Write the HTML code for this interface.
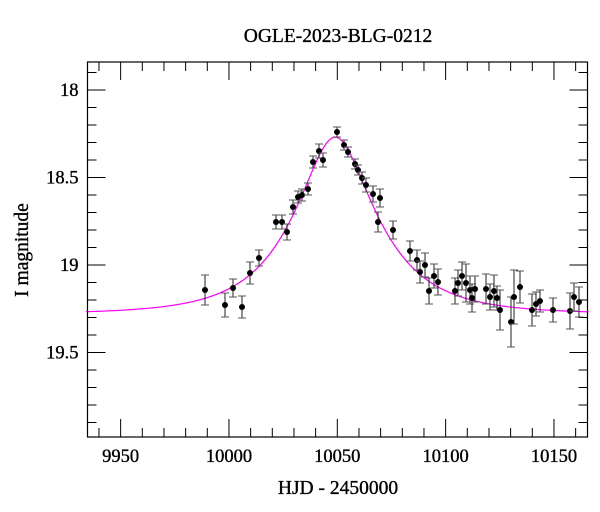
<!DOCTYPE html>
<html><head><meta charset="utf-8"><style>
html,body{margin:0;padding:0;background:#fff;width:600px;height:512px;overflow:hidden}
svg text{font-family:"Liberation Serif",serif;fill:#000;stroke:#000;stroke-width:0.35}
</style></head><body>
<svg id="s" width="600" height="512" viewBox="0 0 600 512" xmlns="http://www.w3.org/2000/svg">
<rect x="0" y="0" width="600" height="512" fill="#fff"/>
<text x="338" y="42" font-size="19.5" text-anchor="middle">OGLE-2023-BLG-0212</text>
<text x="338" y="494" font-size="19.5" text-anchor="middle">HJD - 2450000</text>
<text transform="translate(28,250) rotate(-90)" font-size="19.5" text-anchor="middle">I magnitude</text>
<g id="ticks" stroke="#000" stroke-width="1"></g>
<g id="labels" font-size="18.5"></g>
<path id="model" fill="none" stroke="#ff00ff" stroke-width="1.2"/>
<g id="pts"></g>
<rect x="87.5" y="62" width="500" height="375" fill="none" stroke="#000" stroke-width="1.2"/>
</svg>
<script>
var L=87.5,R=587.5,T=62,B=437;
function X(t){return 337.3+(t-10050)*2.1667}
function Y(m){return 90+(m-18)*175}
var tk="",lb="";
for(var t=9940;t<=10160;t+=10){var x=X(t);var maj=(t%50==0);var len=maj?18:9;
tk+='<line x1="'+x+'" y1="'+B+'" x2="'+x+'" y2="'+(B-len)+'"/><line x1="'+x+'" y1="'+T+'" x2="'+x+'" y2="'+(T+len)+'"/>';
if(maj)lb+='<text x="'+x+'" y="'+(B+25)+'" text-anchor="middle">'+t+'</text>';}
for(var i=0;i<=21;i++){var m=17.9+i*0.1;var y=Y(m);if(y<T||y>B)continue;var maj=(Math.abs(m*2-Math.round(m*2))<1e-6);var len=maj?18:9;
tk+='<line x1="'+L+'" y1="'+y+'" x2="'+(L+len)+'" y2="'+y+'"/><line x1="'+R+'" y1="'+y+'" x2="'+(R-len)+'" y2="'+y+'"/>';
if(maj){var s=(Math.round(m*10)/10).toString();lb+='<text x="'+(L-9)+'" y="'+(y+6)+'" text-anchor="end">'+s+'</text>';}}
document.getElementById('ticks').innerHTML=tk;document.getElementById('labels').innerHTML=lb;
var u0=0.42,tE=35,t0=10049,base=19.28;
function A(u){return (u*u+2)/(u*Math.sqrt(u*u+4))}
var d="";for(var t=9934;t<=10166;t+=0.5){var u=Math.sqrt(u0*u0+Math.pow((t-t0)/tE,2));var m=base-2.5*Math.log10(A(u));d+=(d?"L":"M")+X(t).toFixed(2)+","+Y(m).toFixed(2);}
document.getElementById('model').setAttribute('d',d);
var P=[[205,290,15],[225,305,12],[233,288,9],[242,307,11],[250,273,11],[259,258,8],[276,222,7],[282,222,7],[287,232,8],[293,207,7],[298,197,6],[302,195,6],[308,189,6],[313,162,6],[319,151,7],[323,160,7],[337,132,5],[344,145,5],[348,152,5],[355,164,5],[358,170,5],[362,178,6],[366,185,7],[373,194,8],[378,222,10],[380,198,9],[393,230,9],[410,251,10],[417,260,10],[420,272,11],[425,265,12],[429,291,13],[434,276,12],[438,282,13],[455,291,13],[458,283,13],[462,276,14],[466,283,19],[470,290,14],[472,298,14],[475,289,13],[486,289,15],[490,297,13],[494,291,16],[497,298,12],[500,310,20],[511,322,25],[514,297,27],[520,287,16],[532,310,16],[536,304,12],[540,301,11],[553,310,12],[570,311,18],[574,297,14],[579,302,15]];
var g="";P.forEach(function(p){var x=p[0],y=p[1],e=p[2];
g+='<line x1="'+x+'" y1="'+(y-e)+'" x2="'+x+'" y2="'+(y+e)+'" stroke="#222" stroke-width="1"/>';
g+='<line x1="'+(x-4)+'" y1="'+(y-e)+'" x2="'+(x+4)+'" y2="'+(y-e)+'" stroke="#555" stroke-width="1"/>';
g+='<line x1="'+(x-4)+'" y1="'+(y+e)+'" x2="'+(x+4)+'" y2="'+(y+e)+'" stroke="#555" stroke-width="1"/>';
g+='<circle cx="'+x+'" cy="'+y+'" r="3" fill="#000"/>';});
document.getElementById('pts').innerHTML=g;
</script>
</body></html>
